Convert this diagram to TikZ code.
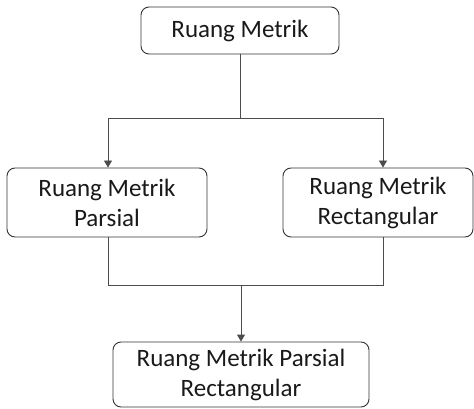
\documentclass[tikz,border=0pt]{standalone}
\usepackage{fontspec}
\setmainfont{Carlito}
\usetikzlibrary{arrows.meta}
\begin{document}
\begin{tikzpicture}[x=1pt,y=-1pt,
  box/.style={draw=black!80,line width=0.9pt,rounded corners=8pt,align=center,inner sep=0pt,
    font=\fontsize{25}{30}\selectfont,text=black!90},
  conn/.style={draw=black!70,line width=0.9pt},
  arr/.style={conn,-{Triangle[width=8pt,length=7pt]}}]
\useasboundingbox (0,0) rectangle (474,409);
\node[box,minimum width=198pt,minimum height=47pt] (top) at (240,30.5) {Ruang Metrik};
\node[box,minimum width=200pt,minimum height=69pt] (left) at (107,202.5) {Ruang Metrik\\Parsial};
\node[box,minimum width=190pt,minimum height=69pt] (right) at (378,202.5) {Ruang Metrik\\Rectangular};
\node[box,minimum width=256pt,minimum height=65pt] (bot) at (241,374.5) {Ruang Metrik Parsial\\Rectangular};
\coordinate (j1) at (240,118);
\coordinate (j1l) at (108,118);
\coordinate (j1r) at (383,118);
\coordinate (j2) at (241,285);
\coordinate (j2l) at (108,285);
\coordinate (j2r) at (383,285);
\draw[conn] (top.south) -- (j1);
\draw[conn] (j1l) -- (j1r);
\draw[arr] (j1l) -- (left.north -| j1l);
\draw[arr] (j1r) -- (right.north -| j1r);
\draw[conn] (left.south -| j2l) -- (j2l) -- (j2r) -- (right.south -| j2r);
\draw[arr] (j2) -- (bot.north -| j2);
\end{tikzpicture}
\end{document}
